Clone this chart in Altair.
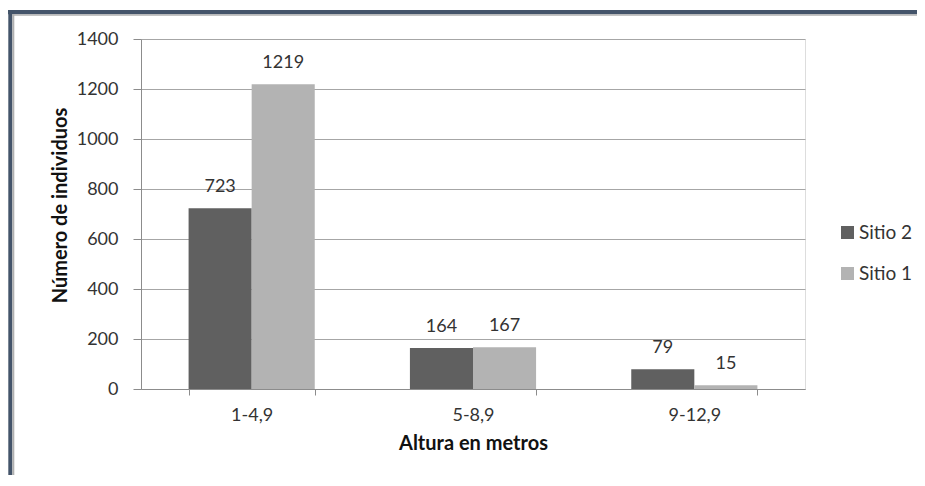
import altair as alt
import pandas as pd

categories = ["1-4,9", "5-8,9", "9-12,9"]
sitio2 = [723, 164, 79]
sitio1 = [1219, 167, 15]
series = ["Sitio 2", "Sitio 1"]
colors = ["#606060", "#b3b3b3"]

rows = []
for i, c in enumerate(categories):
    rows.append({"cat": c, "sitio": "Sitio 2", "val": sitio2[i]})
    rows.append({"cat": c, "sitio": "Sitio 1", "val": sitio1[i]})
df = pd.DataFrame(rows)

FONT = "Lato"
TXT = "#333333"

x_enc = alt.X("cat:N", sort=categories,
              scale=alt.Scale(paddingInner=0.43, paddingOuter=0.215),
              axis=alt.Axis(title="Altura en metros", labelAngle=0, tickBand="extent",
                            tickSize=6, tickColor="#8c8c8c", domainColor="#8c8c8c",
                            labelFontSize=18, labelColor=TXT, labelPadding=11,
                            titleFontSize=20, titleFontWeight="bold", titleColor="#111111",
                            titleY=54, titleBaseline="middle", grid=False, labelFont=FONT,
                            titleFont=FONT))
y_enc = alt.Y("val:Q", scale=alt.Scale(domain=[0, 1400], nice=False),
              axis=alt.Axis(title="Número de individuos", values=list(range(0, 1401, 200)),
                            format="d",
                            grid=True, gridColor="#a6a6a6", tickColor="#8c8c8c",
                            domainColor="#8c8c8c", tickSize=8, labelPadding=15,
                            labelFontSize=18, labelColor=TXT, labelFont=FONT,
                            titleFont=FONT, titleFontSize=20, titleFontWeight="bold",
                            titleColor="#111111", titleX=-81, titleY=166,
                            titleAngle=270, titleAlign="center", titleBaseline="middle"))

base = alt.Chart(df)
bars = base.mark_bar().encode(
    x=x_enc, y=y_enc,
    xOffset=alt.XOffset("sitio:N", sort=series),
    color=alt.Color("sitio:N", sort=series,
                    scale=alt.Scale(domain=series, range=colors),
                    legend=alt.Legend(title=None, orient="none", legendX=697, legendY=184,
                                      symbolType="square", symbolSize=170,
                                      symbolStrokeWidth=0, labelFontSize=19,
                                      labelFont=FONT, labelColor=TXT, rowPadding=21,
                                      labelOffset=2)),
)
labels = base.mark_text(baseline="middle", dy=-21, fontSize=18, font=FONT, color=TXT).encode(
    x=alt.X("cat:N", sort=categories),
    xOffset=alt.XOffset("sitio:N", sort=series),
    y="val:Q",
    text="val:Q",
)

one = alt.Chart(pd.DataFrame({"a": [0]}))
frame_top = one.mark_rule(color="#44546a", strokeWidth=4.3).encode(
    x=alt.value(-133), x2=alt.value(780), y=alt.value(-26.9))
frame_left = one.mark_rule(color="#44546a", strokeWidth=4).encode(
    x=alt.value(-130.7), y=alt.value(-29), y2=alt.value(439))
inner_top = one.mark_rule(color="#b0b0b0", strokeWidth=1.4).encode(
    x=alt.value(-128.7), x2=alt.value(780), y=alt.value(-24))
inner_left = one.mark_rule(color="#b0b0b0", strokeWidth=2).encode(
    x=alt.value(-127.7), y=alt.value(-24.7), y2=alt.value(439))

chart = alt.layer(bars, labels, frame_top, frame_left, inner_top, inner_left).properties(
    width=664, height=350,
    autosize=alt.AutoSizeParams(type="none"),
    padding={"left": 133, "top": 31, "right": 112, "bottom": 86},
).configure_view(stroke=None).configure(background="white")

chart.save("out.html", embed_options={"renderer": "svg", "actions": False})
